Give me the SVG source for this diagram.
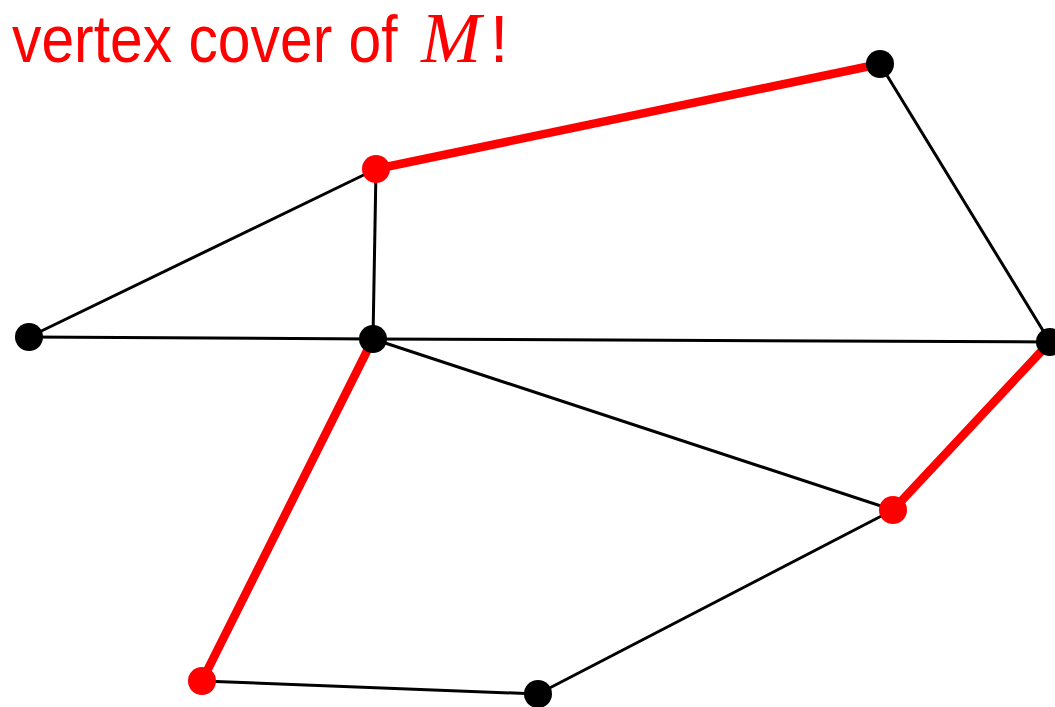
<svg xmlns="http://www.w3.org/2000/svg" width="1055" height="707" viewBox="0 0 1055 707">
<style>
.e{stroke:#000;stroke-width:3;fill:none;stroke-linecap:round}
.m{stroke:#ff0000;stroke-width:8.5;fill:none;stroke-linecap:round}
.b{fill:#000}
.r{fill:#ff0000}
.t{font-family:"Liberation Sans",Arial,sans-serif;font-size:66px;fill:#ff0000}
.mi{font-family:"Liberation Serif","Times New Roman",serif;font-style:italic;font-size:72px;fill:#ff0000}
</style>
<rect width="1055" height="707" fill="#fff"/>
<g id="title">
<text class="t" x="0" y="0" transform="translate(12,62) scale(0.891,1)">vertex cover of</text>
<text class="mi" x="421" y="62">M</text>
<text class="t" x="490" y="62">!</text>
</g>
<g id="connectors">
<line class="e" x1="880" y1="64" x2="1050" y2="342"/>
<line class="e" x1="376" y1="169" x2="29" y2="337"/>
<line class="e" x1="376" y1="169" x2="373" y2="339"/>
<line class="e" x1="29" y1="337" x2="373" y2="339"/>
<line class="e" x1="373" y1="339" x2="1050" y2="342"/>
<line class="e" x1="373" y1="339" x2="893" y2="510"/>
<line class="e" x1="893" y1="510" x2="538" y2="694"/>
<line class="e" x1="202" y1="681" x2="538" y2="694"/>
<line class="m" x1="376" y1="169" x2="880" y2="64"/>
<line class="m" x1="373" y1="339" x2="202" y2="681"/>
<line class="m" x1="1050" y1="342" x2="893" y2="510"/>
</g>
<g id="nA"><circle class="b" cx="880" cy="64" r="14"/></g>
<g id="nB"><circle class="r" cx="376" cy="169" r="14"/></g>
<g id="nC"><circle class="b" cx="29" cy="337" r="14"/></g>
<g id="nD"><circle class="b" cx="373" cy="339" r="14"/></g>
<g id="nE"><circle class="b" cx="1050" cy="342" r="14"/></g>
<g id="nF"><circle class="r" cx="893" cy="510" r="14"/></g>
<g id="nG"><circle class="r" cx="202" cy="681" r="14"/></g>
<g id="nH"><circle class="b" cx="538" cy="694" r="14"/></g>
</svg>
